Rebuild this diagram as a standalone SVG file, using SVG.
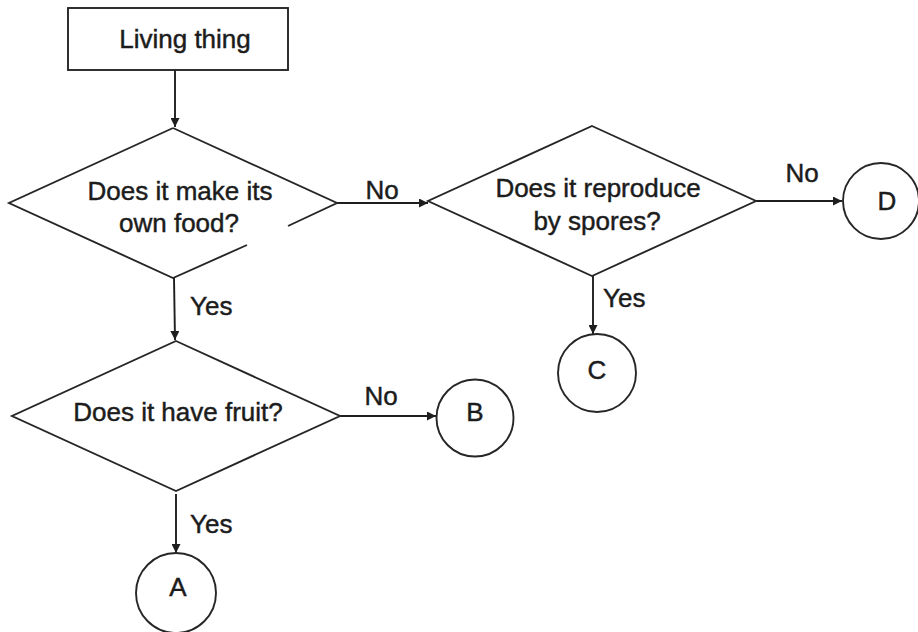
<svg xmlns="http://www.w3.org/2000/svg" width="918" height="632" viewBox="0 0 918 632">
<defs>
<marker id="ah" viewBox="0 0 10 10" refX="10" refY="5" markerWidth="10" markerHeight="9" markerUnits="userSpaceOnUse" orient="auto">
<path d="M0,0 L10,5 L0,10 Z" fill="#1e1e1e"/>
</marker>
<style>
.s{fill:#fff;stroke:#262626;stroke-width:1.9;stroke-linejoin:miter}
.o{fill:none;stroke:#262626;stroke-width:1.9;stroke-linejoin:miter}
.c{fill:none;stroke:#1e1e1e;stroke-width:1.9}
.t{font-family:"Liberation Sans",Arial,sans-serif;font-size:26px;fill:#1c1c1c;stroke:#1c1c1c;stroke-width:0.45}
.m{text-anchor:middle}
</style>
</defs>
<rect width="918" height="632" fill="#fff"/>
<g id="connectors">
<line class="c" x1="175" y1="70" x2="175" y2="127" marker-end="url(#ah)"/>
<line class="c" x1="337" y1="203" x2="428" y2="203" marker-end="url(#ah)"/>
<line class="c" x1="756" y1="201" x2="842" y2="201" marker-end="url(#ah)"/>
<line class="c" x1="593" y1="276" x2="593" y2="334" marker-end="url(#ah)"/>
<line class="c" x1="174" y1="278" x2="175" y2="340" marker-end="url(#ah)"/>
<line class="c" x1="340" y1="416" x2="436" y2="416" marker-end="url(#ah)"/>
<line class="c" x1="176" y1="494" x2="176" y2="553" marker-end="url(#ah)"/>
<text class="t m" x="382" y="199">No</text>
<text class="t m" x="802" y="182">No</text>
<text class="t" x="190" y="315">Yes</text>
<text class="t" x="603" y="307">Yes</text>
<text class="t m" x="381" y="405">No</text>
<text class="t" x="190" y="533">Yes</text>
</g>
<g id="start">
<rect class="s" x="68" y="8" width="220" height="62"/>
<text class="t m" x="185" y="48">Living thing</text>
</g>
<g id="q-food">
<path class="o" d="M173,128 L337,203 L288,226 M247,245 L173,278 L9,203 L173,128"/>
<text class="t m" x="180" y="200">Does it make its</text>
<text class="t m" x="179" y="232">own food?</text>
</g>
<g id="q-spores">
<polygon class="s" points="592,126 756,201 592,276 428,201"/>
<text class="t m" x="598" y="197">Does it reproduce</text>
<text class="t m" x="597" y="230">by spores?</text>
</g>
<g id="q-fruit">
<polygon class="s" points="176,341 340,416 176,491 12,416"/>
<text class="t m" x="178" y="421">Does it have fruit?</text>
</g>
<g id="A">
<circle class="s" cx="176" cy="593" r="40"/>
<text class="t m" x="178" y="596">A</text>
</g>
<g id="B">
<circle class="s" cx="475" cy="418" r="38.5"/>
<text class="t m" x="475" y="421">B</text>
</g>
<g id="C">
<circle class="s" cx="597" cy="373" r="39"/>
<text class="t m" x="597" y="379">C</text>
</g>
<g id="D">
<circle class="s" cx="881" cy="201" r="38"/>
<text class="t m" x="887" y="210">D</text>
</g>
</svg>
